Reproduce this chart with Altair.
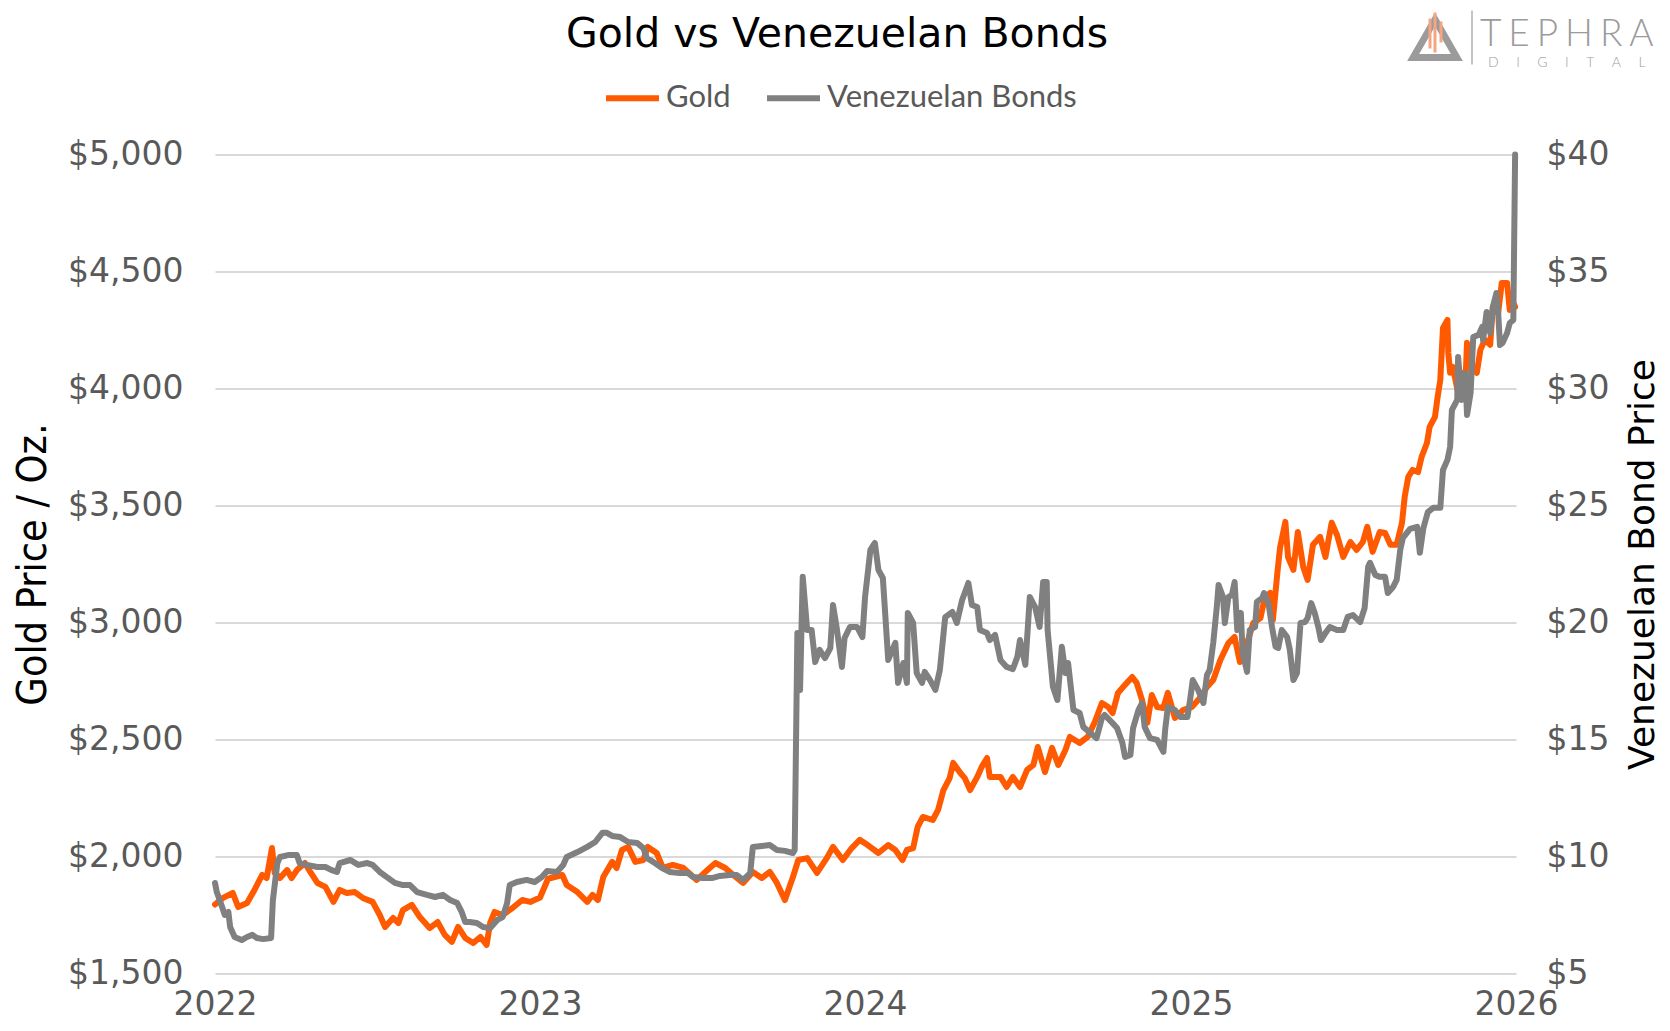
import altair as alt
import pandas as pd

# ---------------- data ----------------
gold_dates = [
    "2022-01-01","2022-01-10","2022-01-21","2022-01-27","2022-02-06","2022-02-13","2022-02-23","2022-02-28",
    "2022-03-06","2022-03-09","2022-03-15","2022-03-23","2022-03-28","2022-04-03","2022-04-12","2022-04-18",
    "2022-04-26","2022-05-05","2022-05-14","2022-05-21","2022-05-29","2022-06-07","2022-06-16","2022-06-27",
    "2022-07-05","2022-07-11","2022-07-20","2022-07-26","2022-07-31","2022-08-10","2022-08-19","2022-08-30",
    "2022-09-08","2022-09-16","2022-09-24","2022-10-01","2022-10-09","2022-10-18","2022-10-26","2022-11-02",
    "2022-11-06","2022-11-11","2022-11-20","2022-12-01","2022-12-12","2022-12-21","2023-01-01","2023-01-10",
    "2023-01-26","2023-01-31","2023-02-12","2023-02-23","2023-03-01","2023-03-07","2023-03-13","2023-03-23",
    "2023-03-28","2023-04-03","2023-04-10","2023-04-18","2023-04-27","2023-05-02","2023-05-12","2023-05-19",
    "2023-05-30","2023-06-11","2023-06-26","2023-07-08","2023-07-17","2023-07-28","2023-08-06","2023-08-17",
    "2023-08-28","2023-09-07","2023-09-16","2023-09-24","2023-10-03","2023-10-12","2023-10-18","2023-10-28",
    "2023-11-08","2023-11-19","2023-11-26","2023-12-07","2023-12-17","2023-12-26","2024-01-04","2024-01-16",
    "2024-01-27","2024-02-04","2024-02-12","2024-02-17","2024-02-24","2024-02-29","2024-03-06","2024-03-17",
    "2024-03-23","2024-03-29","2024-04-05","2024-04-09","2024-04-17","2024-04-22","2024-04-28","2024-05-06",
    "2024-05-11","2024-05-17","2024-05-20","2024-06-01","2024-06-08","2024-06-15","2024-06-23","2024-07-01",
    "2024-07-08","2024-07-13","2024-07-21","2024-07-29","2024-08-05","2024-08-13","2024-08-18","2024-08-29",
    "2024-09-07","2024-09-15","2024-09-23","2024-09-30","2024-10-05","2024-10-11","2024-10-17","2024-10-27",
    "2024-11-01","2024-11-07","2024-11-13","2024-11-18","2024-11-24","2024-12-01","2024-12-06","2024-12-14",
    "2024-12-23","2025-01-02","2025-01-11","2025-01-19","2025-01-26","2025-02-03","2025-02-12","2025-02-19",
    "2025-02-25","2025-03-05","2025-03-12","2025-03-20","2025-03-25","2025-03-31","2025-04-03","2025-04-08",
    "2025-04-11","2025-04-17","2025-04-20","2025-04-26","2025-05-01","2025-05-07","2025-05-12","2025-05-18",
    "2025-05-26","2025-06-01","2025-06-08","2025-06-14","2025-06-21","2025-06-29","2025-07-06","2025-07-13",
    "2025-07-18","2025-07-24","2025-08-01","2025-08-07","2025-08-13","2025-08-20","2025-08-26","2025-08-29",
    "2025-09-02","2025-09-07","2025-09-13","2025-09-17","2025-09-23","2025-09-26","2025-10-02","2025-10-05",
    "2025-10-08","2025-10-11","2025-10-16","2025-10-17","2025-10-19","2025-10-22","2025-10-28","2025-11-01",
    "2025-11-05","2025-11-07","2025-11-13","2025-11-18","2025-11-22","2025-11-27","2025-12-03","2025-12-06",
    "2025-12-12","2025-12-16","2025-12-22","2025-12-25","2025-12-29","2025-12-31",
]
gold_values = [
    1795,1823,1844,1784,1801,1848,1921,1908,
    2036,1930,1908,1942,1908,1942,1972,1934,
    1887,1870,1806,1857,1844,1848,1823,1806,
    1750,1699,1737,1716,1771,1793,1741,1694,
    1720,1665,1635,1699,1652,1630,1656,1622,
    1716,1763,1750,1780,1814,1806,1825,1905,
    1921,1878,1848,1806,1836,1814,1912,1977,
    1951,2028,2041,1977,1985,2041,2015,1951,
    1964,1951,1900,1942,1972,1951,1921,1887,
    1934,1908,1934,1887,1814,1912,1985,1993,
    1930,1993,2041,1985,2036,2071,2049,2015,
    2049,2028,1985,2028,2036,2126,2169,2156,
    2199,2284,2335,2400,2357,2335,2284,2340,
    2383,2421,2340,2340,2297,2340,2297,2370,
    2391,2468,2361,2464,2391,2455,2511,2485,
    2511,2575,2656,2639,2613,2699,2725,2767,
    2742,2669,2571,2690,2639,2635,2699,2592,
    2626,2639,2677,2725,2754,2840,2912,2938,
    2831,2912,2998,3019,3109,3126,3011,3212,
    3319,3430,3280,3225,3387,3238,3182,3332,
    3366,3280,3426,3374,3280,3344,3310,3344,
    3409,3302,3387,3383,3332,3332,3426,3537,
    3622,3652,3643,3708,3767,3836,3879,3964,
    4037,4259,4293,4152,4067,4092,3981,4067,
    4007,4195,4092,4067,4165,4208,4187,4349,
    4323,4451,4451,4336,4366,4349,
]

bond_dates = [
    "2022-01-01","2022-01-03","2022-01-09","2022-01-12","2022-01-16","2022-01-18","2022-01-23","2022-01-31",
    "2022-02-06","2022-02-12","2022-02-17","2022-02-24","2022-03-05","2022-03-07","2022-03-12","2022-03-15",
    "2022-03-24","2022-04-03","2022-04-06","2022-04-14","2022-04-26","2022-05-05","2022-05-12","2022-05-18",
    "2022-05-21","2022-06-02","2022-06-11","2022-06-21","2022-06-27","2022-07-05","2022-07-13","2022-07-22",
    "2022-07-31","2022-08-08","2022-08-16","2022-08-27","2022-09-05","2022-09-14","2022-09-22","2022-09-30",
    "2022-10-05","2022-10-09","2022-10-14","2022-10-22","2022-10-29","2022-11-06","2022-11-14","2022-11-20",
    "2022-11-25","2022-11-28","2022-12-06","2022-12-17","2022-12-26","2023-01-03","2023-01-09","2023-01-20",
    "2023-01-27","2023-01-31","2023-02-12","2023-02-23","2023-03-04","2023-03-12","2023-03-17","2023-03-23",
    "2023-04-01","2023-04-10","2023-04-20","2023-04-27","2023-05-01","2023-05-08","2023-05-18","2023-05-27",
    "2023-06-07","2023-06-16","2023-06-22","2023-07-03","2023-07-13","2023-07-22","2023-08-02","2023-08-10",
    "2023-08-17","2023-08-25","2023-08-28","2023-09-07","2023-09-16","2023-09-24","2023-10-03","2023-10-12",
    "2023-10-14","2023-10-17","2023-10-20","2023-10-23","2023-10-28","2023-11-02","2023-11-06","2023-11-11",
    "2023-11-17","2023-11-23","2023-11-26","2023-11-30","2023-12-06","2023-12-09","2023-12-15","2023-12-23",
    "2023-12-29","2024-01-01","2024-01-07","2024-01-12","2024-01-16","2024-01-21","2024-01-27","2024-02-04",
    "2024-02-07","2024-02-13","2024-02-17","2024-02-18","2024-02-24","2024-02-28","2024-03-05","2024-03-08",
    "2024-03-14","2024-03-20","2024-03-25","2024-03-31","2024-04-08","2024-04-13","2024-04-19","2024-04-26",
    "2024-04-30","2024-05-06","2024-05-09","2024-05-17","2024-05-20","2024-05-26","2024-06-01","2024-06-08",
    "2024-06-15","2024-06-20","2024-06-23","2024-06-29","2024-07-01","2024-07-04","2024-07-10","2024-07-15",
    "2024-07-19","2024-07-23","2024-07-24","2024-07-30","2024-08-04","2024-08-09","2024-08-13","2024-08-16",
    "2024-08-22","2024-08-29","2024-09-02","2024-09-10","2024-09-17","2024-09-23","2024-09-26","2024-10-05",
    "2024-10-10","2024-10-16","2024-10-19","2024-10-25","2024-10-28","2024-11-03","2024-11-07","2024-11-10",
    "2024-11-16","2024-11-24","2024-12-01","2024-12-03","2024-12-06","2024-12-14","2024-12-20","2024-12-28",
    "2024-12-31","2025-01-03","2025-01-09","2025-01-15","2025-01-19","2025-01-22","2025-01-26","2025-01-30",
    "2025-02-01","2025-02-06","2025-02-08","2025-02-12","2025-02-16","2025-02-19","2025-02-22","2025-02-26",
    "2025-02-28","2025-03-05","2025-03-08","2025-03-14","2025-03-16","2025-03-22","2025-03-24","2025-03-29",
    "2025-04-02","2025-04-06","2025-04-09","2025-04-13","2025-04-19","2025-04-22","2025-04-26","2025-04-30",
    "2025-05-04","2025-05-09","2025-05-12","2025-05-16","2025-05-20","2025-05-24","2025-05-27","2025-06-01",
    "2025-06-06","2025-06-14","2025-06-21","2025-06-26","2025-07-02","2025-07-10","2025-07-15","2025-07-19",
    "2025-07-21","2025-07-27","2025-08-01","2025-08-07","2025-08-10","2025-08-16","2025-08-20","2025-08-24",
    "2025-08-27","2025-09-04","2025-09-12","2025-09-15","2025-09-19","2025-09-24","2025-09-30","2025-10-08",
    "2025-10-11","2025-10-16","2025-10-19","2025-10-21","2025-10-27","2025-10-28","2025-11-01","2025-11-05",
    "2025-11-07","2025-11-11","2025-11-14","2025-11-20","2025-11-24","2025-11-25","2025-11-29","2025-12-03",
    "2025-12-06","2025-12-10","2025-12-12","2025-12-14","2025-12-17","2025-12-22","2025-12-25","2025-12-29",
    "2025-12-31",
]
bond_values = [
    8.87,8.48,7.84,7.50,7.63,6.99,6.56,6.43,
    6.56,6.65,6.52,6.47,6.52,8.14,9.72,9.98,
    10.06,10.06,9.72,9.64,9.55,9.55,9.42,9.34,
    9.72,9.85,9.64,9.72,9.64,9.34,9.12,8.87,
    8.78,8.78,8.48,8.36,8.27,8.36,8.14,8.01,
    7.63,7.20,7.20,7.16,6.99,6.94,7.29,7.41,
    8.01,8.78,8.91,9.00,8.91,9.12,9.38,9.34,
    9.64,9.98,10.19,10.41,10.62,11.01,11.01,10.88,
    10.83,10.62,10.58,10.36,9.94,9.77,9.51,9.34,
    9.29,9.29,9.12,9.08,9.08,9.17,9.21,9.21,
    9.00,9.29,10.41,10.45,10.49,10.28,10.24,10.15,
    10.28,19.55,17.12,21.95,19.68,19.68,18.31,18.83,
    18.48,18.91,20.75,19.81,18.10,19.34,19.81,19.81,
    19.38,21.09,23.10,23.40,22.25,21.90,18.40,19.13,
    17.42,18.27,17.42,20.41,19.98,17.84,17.42,17.89,
    17.54,17.12,17.97,20.23,20.45,19.98,20.96,21.69,
    20.75,20.66,19.68,19.55,19.25,19.47,18.40,18.10,
    18.01,18.53,19.25,18.19,19.34,21.09,20.66,19.81,
    21.73,21.73,19.68,17.25,16.69,18.96,17.84,18.27,
    16.26,16.13,15.54,15.28,15.06,15.92,16.05,15.70,
    15.49,14.85,14.25,14.34,15.49,16.26,16.56,15.54,
    15.06,14.98,14.47,15.41,16.39,16.26,15.96,15.96,
    16.69,17.54,17.12,16.56,17.76,17.97,19.13,20.66,
    21.60,21.09,19.98,21.09,21.18,21.73,19.68,20.41,
    18.70,17.89,19.68,19.81,20.88,21.05,21.26,20.83,
    19.81,18.96,18.91,19.68,19.38,18.83,17.54,17.84,
    19.98,20.02,20.19,20.83,20.41,19.81,19.25,19.55,
    19.81,19.68,19.68,20.24,20.32,20.02,20.62,22.38,
    22.55,22.03,21.95,21.95,21.26,21.52,21.82,23.10,
    23.62,24.00,24.09,22.98,24.04,24.72,24.90,24.90,
    26.52,26.95,27.50,29.08,29.51,31.35,29.51,30.66,
    28.87,29.81,32.20,32.29,32.63,32.07,33.27,32.37,
    33.48,34.08,33.23,31.86,31.95,32.37,32.80,32.93,
    40.00,
]

series_names = ["Gold", "Venezuelan Bonds"]
series_colors = ["#FF5A00", "#808080"]
gold_ticks = [1500, 2000, 2500, 3000, 3500, 4000, 4500, 5000]
bond_ticks = [5, 10, 15, 20, 25, 30, 35, 40]
year_ticks = [2022, 2023, 2024, 2025, 2026]

gold_df = pd.DataFrame({"date": gold_dates, "value": gold_values, "series": series_names[0]})
bond_df = pd.DataFrame({"date": bond_dates, "value": bond_values, "series": series_names[1]})

# ---------------- styling ----------------
W, H = 1301, 819
LABEL_FONT = "DejaVu Sans"
LABEL_COLOR = "#595959"
LINE_W = 6

x_enc = alt.X(
    "date:T",
    scale=alt.Scale(
        type="utc",
        domain=[alt.DateTime(year=year_ticks[0], month=1, date=1, utc=True),
                alt.DateTime(year=year_ticks[-1], month=1, date=1, utc=True)],
    ),
    axis=alt.Axis(
        values=[alt.DateTime(year=y, month=1, date=1, utc=True) for y in year_ticks],
        format="%Y", formatType="utc", title=None, grid=False, ticks=False, domain=False,
        labelFlush=False, labelOverlap=False, labelBound=False,
        labelFont=LABEL_FONT, labelFontSize=33, labelColor=LABEL_COLOR,
        labelBaseline="alphabetic", labelPadding=41,
    ),
)

color_enc = alt.Color(
    "series:N",
    scale=alt.Scale(domain=series_names, range=series_colors),
    legend=alt.Legend(
        orient="none", legendX=388, legendY=-86, direction="horizontal", title=None,
        symbolType="stroke", symbolSize=2809, symbolStrokeWidth=6,
        labelFont="Lato", labelFontSize=31, labelColor=LABEL_COLOR, labelLimit=600,
        labelOffset=4, columnPadding=24, padding=0,
    ),
)

gold_line = alt.Chart(gold_df).mark_line(strokeWidth=LINE_W, strokeJoin="round", strokeCap="round").encode(
    x=x_enc,
    y=alt.Y(
        "value:Q",
        scale=alt.Scale(domain=[gold_ticks[0], gold_ticks[-1]], nice=False, zero=False),
        axis=alt.Axis(
            values=gold_ticks, format="$,.0f", title="Gold Price / Oz.",
            titleFont="DejaVu Sans Condensed, DejaVu Sans", titleFontSize=41, titleFontWeight="normal",
            titleColor="black", titleAngle=270, titleX=-182, titleY=H / 2,
            titleAlign="center", titleBaseline="middle",
            labelFont=LABEL_FONT, labelFontSize=33, labelColor=LABEL_COLOR, labelPadding=32,
            ticks=False, domain=False, grid=True, gridColor="#D9D9D9", gridWidth=2,
        ),
    ),
    color=color_enc,
)

bond_line = alt.Chart(bond_df).mark_line(strokeWidth=LINE_W, strokeJoin="round", strokeCap="round").encode(
    x=x_enc,
    y=alt.Y(
        "value:Q",
        scale=alt.Scale(domain=[bond_ticks[0], bond_ticks[-1]], nice=False, zero=False),
        axis=alt.Axis(
            orient="right", values=bond_ticks, format="$,.0f", title="Venezuelan Bond Price",
            titleFont="DejaVu Sans", titleFontSize=36, titleFontWeight="normal",
            titleColor="black", titleAngle=270, titleX=126, titleY=H / 2,
            titleAlign="center", titleBaseline="middle",
            labelFont=LABEL_FONT, labelFontSize=33, labelColor=LABEL_COLOR, labelPadding=30,
            ticks=False, domain=False, grid=False,
        ),
    ),
    color=color_enc,
)

one = pd.DataFrame({"k": [0]})

title = alt.Chart(one).mark_text(
    text="Gold vs Venezuelan Bonds", font="DejaVu Sans", fontSize=41, color="black",
    align="center", baseline="alphabetic",
).encode(x=alt.value(622), y=alt.value(-108))

# logo (top right)
logo_word = alt.Chart(one).mark_text(
    text="T\u2009\u200aE\u2009\u200aP\u2009\u200aH\u2009\u200aR\u2009\u200aA", font="Lato", fontSize=37,
    fontWeight=300, color="#9B9B9B", align="left", baseline="alphabetic",
).encode(x=alt.value(1265), y=alt.value(-109))
logo_sub = alt.Chart(one).mark_text(
    text="D\u2003\u2002I\u2003\u2002G\u2003\u2002I\u2003\u2002T\u2003\u2002A\u2003\u2002L", font="Lato",
    fontSize=14, fontWeight=300, color="#A0A0A0", align="left", baseline="alphabetic",
).encode(x=alt.value(1273), y=alt.value(-88))
logo_div = alt.Chart(one).mark_rule(color="#B0B0B0", strokeWidth=1.5).encode(
    x=alt.value(1257), y=alt.value(-144), y2=alt.value(-90))
logo_tri = alt.Chart(one).mark_point(
    shape="triangle-up", filled=False, size=1900, stroke="#9B9B9B", strokeWidth=7, opacity=1,
).encode(x=alt.value(1220), y=alt.value(-116))
logo_bar1 = alt.Chart(one).mark_rule(color="#F4A582", strokeWidth=3).encode(
    x=alt.value(1215), y=alt.value(-136), y2=alt.value(-106))
logo_bar2 = alt.Chart(one).mark_rule(color="#F4A582", strokeWidth=3).encode(
    x=alt.value(1220), y=alt.value(-142), y2=alt.value(-102))
logo_bar3 = alt.Chart(one).mark_rule(color="#F4A582", strokeWidth=3).encode(
    x=alt.value(1226), y=alt.value(-133), y2=alt.value(-112))

chart = alt.layer(
    gold_line, bond_line, title,
    logo_tri, logo_bar1, logo_bar2, logo_bar3, logo_div, logo_word, logo_sub,
).resolve_scale(y="independent").properties(
    width=W, height=H,
    padding={"left": 207, "top": 146.5, "right": 145, "bottom": 49.5},
    autosize=alt.AutoSizeParams(type="none"),
).configure_view(stroke=None)

chart.save("out.html", embed_options={"renderer": "svg", "actions": False})
